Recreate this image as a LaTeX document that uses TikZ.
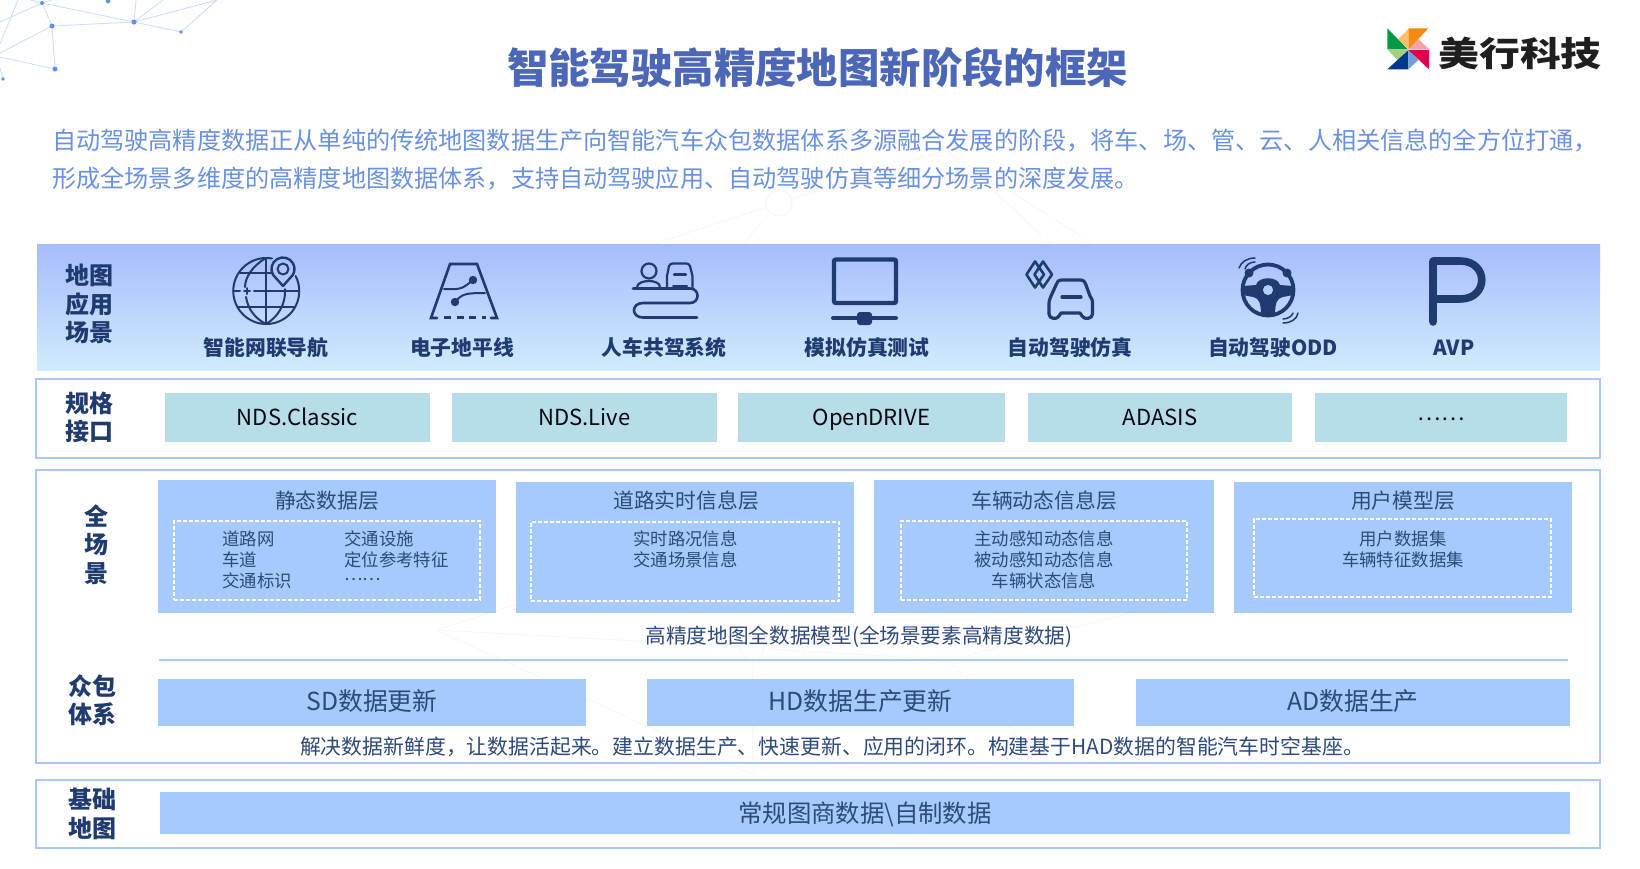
\documentclass[tikz,border=0pt]{standalone}
\usepackage{fontspec}
\usepackage{graphicx}
\setmainfont{Noto Sans CJK SC}
\definecolor{navy}{HTML}{1F3B70}
\definecolor{bodyc}{HTML}{2E4A7C}
\definecolor{chipc}{HTML}{B7DDE8}
\definecolor{layerc}{HTML}{A6CAFC}
\definecolor{framec}{HTML}{A9C7FA}
\definecolor{titlec}{HTML}{4C66B8}
\definecolor{parac}{HTML}{6A90E2}
\definecolor{netc}{HTML}{CADCFB}
\definecolor{dotc}{HTML}{5A93F5}
\definecolor{faintc}{HTML}{F5F7FB}
\definecolor{topb}{HTML}{A5BDFB}
\definecolor{botb}{HTML}{D0EBFF}
\definecolor{lg1}{HTML}{009A44}
\definecolor{lg2}{HTML}{A5CF80}
\definecolor{lo1}{HTML}{F58A0B}
\definecolor{lo2}{HTML}{FDC070}
\definecolor{lp1}{HTML}{F4A3A8}
\definecolor{lr1}{HTML}{E0004D}
\definecolor{lb1}{HTML}{003A8C}
\definecolor{lb2}{HTML}{6F9FD8}
\newcommand{\fs}[1]{\fontsize{#1}{#1}\selectfont}
% \boxn{name}{x1}{y1}{x2}{y2}{style}{text}
\newcommand{\boxn}[7]{%
  \pgfmathsetmacro{\bcx}{(#2+#4)/2}\pgfmathsetmacro{\bcy}{(#3+#5)/2}%
  \pgfmathsetmacro{\bw}{#4-#2}\pgfmathsetmacro{\bh}{#5-#3}%
  \node[#6,minimum width=\bw pt,minimum height=\bh pt,inner sep=0pt,outer sep=0pt] (#1) at (\bcx,\bcy) {#7};}
\tikzset{
  frameb/.style={draw=framec,line width=1.8pt},
  bandb/.style={top color=topb,bottom color=botb},
  chipb/.style={fill=chipc,text=black!85!navy,font=\fs{22.1},text height=18pt,text depth=2pt},
  layerb/.style={fill=layerc},
  wideb/.style={fill=layerc,text=bodyc,font=\fs{24.8},text height=18pt,text depth=2pt},
  baseb/.style={fill=layerc,text=bodyc,font=\fs{24.4},text height=21pt,text depth=2pt},
  dashb/.style={draw=white,line width=1.4pt,dash pattern=on 4pt off 2pt},
  sidel/.style={text=navy,font=\bfseries\fs{24},inner sep=0pt},
  iconl/.style={text=navy,font=\bfseries\fs{20.8},inner sep=0pt},
  layert/.style={text=bodyc,font=\fs{20.8},inner sep=0pt},
  innert/.style={text=bodyc,font=\fs{17.4},inner sep=0pt},
  innerl/.style={innert,anchor=west},
  desct/.style={text=bodyc,font=\fs{20.65},inner sep=0pt},
  parat/.style={text=parac,font=\fs{24.15},inner sep=0pt,anchor=west},
  ic/.style={draw=navy,line width=2.6pt,line cap=round,line join=round},
  net/.style={draw=netc,line width=0.8pt},
  netd/.style={circle,fill=dotc,inner sep=0pt},
  faint/.style={draw=faintc,line width=0.8pt}
}
\begin{document}
\begin{tikzpicture}[x=1pt,y=-1pt]
\useasboundingbox (0,0) rectangle (1640,868);
\fill[white] (0,0) rectangle (1640,868);

% faint background network
\coordinate (f1) at (779,203); \coordinate (f2) at (654,244); \coordinate (f3) at (743,244);
\coordinate (f4) at (945,150); \coordinate (f5) at (1092,243); \coordinate (f6) at (993,190); \coordinate (f7) at (1050,243);
\coordinate (f8) at (437,630); \coordinate (f9) at (523,602); \coordinate (f10) at (752,648); \coordinate (f11) at (753,775);
\coordinate (f12) at (620,640); \coordinate (f13) at (950,660); \coordinate (f14) at (1130,613); \coordinate (f15) at (1040,763);
\draw[faint] (f2)--(f1)--(f3) (f1)--(f4)--(f5) (f6)--(f7) (f8)--(f9) (f8)--(f12)--(f10)--(f13)--(f14) (f8)--(f11)--(f10) (f13)--(f15);
\node[draw=faintc,fill=white,line width=1.2pt,circle,minimum size=26pt,inner sep=0pt] (fh1) at (f1) {};
\node[draw=faintc,fill=white,line width=1.2pt,circle,minimum size=24pt,inner sep=0pt] (fh2) at (f10) {};

% corner network
\coordinate (nA) at (42,3); \coordinate (nB) at (52,26); \coordinate (nC) at (134,22); \coordinate (nD) at (181,32);
\coordinate (nE) at (55,69); \coordinate (nF) at (3,79); \coordinate (nG) at (108,1); \coordinate (nH) at (217,0);
\draw[net] (nA)--(nC) (nA)--(nB) (nB)--(nC) (nC)--(nD) (nD)--(nH) (nC)--(nH) (nC)--(163,0) (nC)--(136,0)
  (nB)--(nE) (nB)--(0,53) (0,57)--(nE) (nA)--(0,22) (0,44)--(18,0) (nA)--(30,0) (nA)--(52,0) (0,68)--(nF);
\foreach \p/\s in {nA/4,nB/5,nC/5,nD/3.6,nE/5,nF/3.6,nG/4.6}{\node[netd,minimum size=\s pt] at (\p) {};}

% title and paragraph
\node[text=titlec,font=\bfseries\fs{41.4},inner sep=0pt] (title) at (817.5,68) {智能驾驶高精度地图新阶段的框架};
\node[parat] (p1) at (52,141) {自动驾驶高精度数据正从单纯的传统地图数据生产向智能汽车众包数据体系多源融合发展的阶段，将车、场、管、云、人相关信息的全方位打通，};
\node[parat] (p2) at (52,178.5) {形成全场景多维度的高精度地图数据体系，支持自动驾驶应用、自动驾驶仿真等细分场景的深度发展。};

% logo pinwheel
\begin{scope}[shift={(1380,20)},x=0.3333pt,y=-0.3333pt]
\fill[lg1] (22,25)--(84,88)--(22,88)--cycle;
\fill[lg2] (22,88)--(84,88)--(52,120)--cycle;
\fill[lb1] (22,148)--(85,90)--(85,148)--cycle;
\fill[lb2] (85,90)--(115,120)--(85,148)--cycle;
\fill[lr1] (85,90)--(147,90)--(147,148)--cycle;
\fill[lp1] (85,88)--(115,57)--(147,88)--cycle;
\fill[lo1] (85,25)--(145,25)--(85,88)--cycle;
\fill[lo2] (85,27)--(85,88)--(55,57)--cycle;
\end{scope}
\node[inner sep=0pt,text=black!88,font=\bfseries\fs{34}] (logot) at (1520,53) {\scalebox{1.2}[1]{美行科技}};

% frames and band
\boxn{band}{37}{244}{1600}{370}{bandb}{}
\boxn{fspec}{36}{379}{1600}{458}{frameb}{}
\boxn{fall}{36}{470}{1600}{763}{frameb}{}
\boxn{fbase}{36}{780}{1600}{848}{frameb}{}

% side labels
\node[sidel] (s1) at (89.5,275) {地图};
\node[sidel] (s2) at (89.5,304) {应用};
\node[sidel] (s3) at (89.5,333) {场景};
\node[sidel] (s4) at (89,403) {规格};
\node[sidel] (s5) at (89,431) {接口};
\node[sidel] (s6) at (96,516) {全};
\node[sidel] (s7) at (96,545) {场};
\node[sidel] (s8) at (96,574) {景};
\node[sidel] (s9) at (92,686) {众包};
\node[sidel] (s10) at (92,714) {体系};
\node[sidel] (s11) at (92,799) {基础};
\node[sidel] (s12) at (92,828) {地图};

% icon labels
\node[iconl] (i1) at (266,347.5) {智能网联导航};
\node[iconl] (i2) at (462,347.5) {电子地平线};
\node[iconl] (i3) at (664,347.5) {人车共驾系统};
\node[iconl] (i4) at (867,347.5) {模拟仿真测试};
\node[iconl] (i5) at (1070,347.5) {自动驾驶仿真};
\node[iconl] (i6) at (1273,347.5) {自动驾驶ODD};
\node[iconl] (i7) at (1454,347.5) {AVP};

% icon: globe
\begin{scope}[ic,line width=2pt]
\draw (272,258.5) arc[start angle=80,end angle=387,radius=33pt];
\draw (266,258) -- (266,324);
\draw (266,258) .. controls (252,266) and (245,278) .. (245,287) (246,297) .. controls (248,310) and (256,319) .. (266,324);
\draw (266,324) .. controls (278,317) and (286,304) .. (285,289);
\draw (240,273) -- (271,273) (233,291) -- (240,291) (254,291) -- (299,291) (238,307) -- (294,307);
\draw (247,288) -- (247,294) (244,291) -- (250,291);
\end{scope}
\draw[ic,line width=2.4pt] (283,286) -- (273,274.75) arc[start angle=210,end angle=-30,radius=11.5pt] -- cycle;
\draw[ic,line width=2pt] (283,269) circle[radius=5.5pt];

% icon: horizon
\draw[ic,line join=miter] (437,318) -- (431,318) -- (450,264) -- (477,264) -- (497,318) -- (491,318);
\draw[ic,line width=2.4pt,dash pattern=on 7pt off 5.5pt,line cap=butt] (444,317.5) -- (486,317.5);
\fill[navy] (473,280) circle[radius=4.2pt] (455,302) circle[radius=4.2pt];
\draw[ic,line width=2pt] (444,289) .. controls (462,290) and (463,288) .. (473,280);
\draw[ic,line width=2pt] (455,302) .. controls (462,294) and (465,293) .. (485,293);

% icon: person, car, road
\draw[ic,line width=2.2pt] (649,271) circle[radius=7.5pt];
\draw[ic,line width=2.2pt] (637,287) .. controls (638,279) and (660,279) .. (660,287);
\draw[ic,line width=2.2pt] (667,288) -- (667,276) -- (669,266) .. controls (670,264) and (671,263.5) .. (673,263.5) -- (686,263.5) .. controls (688,263.5) and (689,264) .. (690,266) -- (692.5,276) -- (692.5,288);
\draw[ic,line width=2.2pt] (674,274.5) -- (686,274.5);
\draw[ic,line width=2pt] (673,286) -- (687,286);
\draw[ic] (633,288.5) -- (690,288.5) .. controls (700,288.5) and (700,303) .. (690,303) -- (643,303) .. controls (631,303) and (631,317.5) .. (643,317.5) -- (697,317.5);

% icon: monitor
\draw[draw=navy,line width=4.4pt,rounded corners=2pt] (834,259.5) rectangle (896,303);
\draw[navy,line width=4pt,line cap=round] (833,318) -- (896,318);
\fill[navy,rounded corners=3pt] (857,312) rectangle (872,325);

% icon: diamonds + car
\draw[ic,line width=2.6pt] (1035,261.5) -- (1044,274.5) -- (1035,287.5) -- (1026.5,274.5) -- cycle;
\draw[ic,line width=2.6pt] (1043,261.5) -- (1052,274.5) -- (1043,287.5) -- (1034.5,274.5) -- cycle;
\draw[ic,line width=3.2pt] (1062,280) -- (1080,280) .. controls (1084,280) and (1085,282) .. (1086,285) -- (1090,296) .. controls (1092,299) and (1092.5,300) .. (1092.5,304) -- (1092.5,314) .. controls (1092.5,319) and (1084,320) .. (1082,316) -- (1080,313) -- (1061,313) -- (1059,316) .. controls (1057,320) and (1049,319) .. (1049,314) -- (1049,304) .. controls (1049,300) and (1050,299) .. (1051,296) -- (1056,285) .. controls (1057,282) and (1058,280) .. (1062,280) -- cycle;
\draw[ic,line width=3.2pt] (1062,297) -- (1081,297);

% icon: steering wheel
\draw[draw=navy,line width=3.8pt] (1268,290) circle[radius=25.5pt];
\path[fill=navy,even odd rule] (1243,286) -- (1256,285) .. controls (1258,276) and (1278,276) .. (1280,285) -- (1293,286) -- (1293,295) -- (1283,297) .. controls (1277,298) and (1275,303) .. (1275,315) -- (1261,315) .. controls (1261,303) and (1259,298) .. (1253,297) -- (1243,295) -- cycle (1268,290) circle[radius=5.2pt];
\fill[navy] (1249,273) circle[radius=4.5pt] (1287,273) circle[radius=4.5pt];
\draw[ic,line width=1.5pt] (1239,268) .. controls (1241,262) and (1247,258) .. (1255,258);
\draw[ic,line width=1.5pt] (1245,269) .. controls (1246,265) and (1250,262) .. (1255,262);
\draw[ic,line width=1.5pt] (1283,323) .. controls (1291,323) and (1297,319) .. (1298,313);
\draw[ic,line width=1.5pt] (1283,319) .. controls (1288,319) and (1292,316) .. (1293,313);

% icon: P
\draw[ic,line width=7.6pt] (1433,322) -- (1433,261) -- (1460,261) .. controls (1489,261) and (1489,299) .. (1460,299) -- (1434,299);

% spec chips
\boxn{c1}{165}{393}{430}{442}{chipb}{NDS.Classic}
\boxn{c2}{452}{393}{717}{442}{chipb}{NDS.Live}
\boxn{c3}{738}{393}{1005}{442}{chipb}{OpenDRIVE}
\boxn{c4}{1028}{393}{1292}{442}{chipb}{ADASIS}
\boxn{c5}{1315}{393}{1567}{442}{chipb}{\raisebox{5pt}{……}}

% layers
\boxn{l1}{158}{480}{496}{613}{layerb}{}
\boxn{l2}{516}{482}{854}{613}{layerb}{}
\boxn{l3}{874}{480}{1214}{613}{layerb}{}
\boxn{l4}{1234}{482}{1572}{613}{layerb}{}
\boxn{d1}{174}{521}{480}{600}{dashb}{}
\boxn{d2}{531}{522}{839}{601}{dashb}{}
\boxn{d3}{901}{521}{1187}{600}{dashb}{}
\boxn{d4}{1254}{519}{1551}{597}{dashb}{}
\node[layert] (t1) at (327,500.5) {静态数据层};
\node[layert] (t2) at (686,500.5) {道路实时信息层};
\node[layert] (t3) at (1044,500.5) {车辆动态信息层};
\node[layert] (t4) at (1403,500.5) {用户模型层};

\node[innerl] (a1) at (222,539) {道路网};
\node[innerl] (a2) at (222,560) {车道};
\node[innerl] (a3) at (222,580.5) {交通标识};
\node[innerl] (a4) at (344,539) {交通设施};
\node[innerl] (a5) at (344,560) {定位参考特征};
\node[innerl] (a6) at (344,579.5) {……};
\node[innert] (b1) at (685.5,539) {实时路况信息};
\node[innert] (b2) at (685.5,560) {交通场景信息};
\node[innert] (e1) at (1044,539) {主动感知动态信息};
\node[innert] (e2) at (1044,560) {被动感知动态信息};
\node[innert] (e3) at (1044,580.5) {车辆状态信息};
\node[innert] (g1) at (1403,539) {用户数据集};
\node[innert] (g2) at (1403,560) {车辆特征数据集};

\node[desct] (m1) at (859,637) {高精度地图全数据模型(全场景要素高精度数据)};
\coordinate (ruleL) at (159,660); \coordinate (ruleR) at (1568,660);
\draw[framec,line width=1.6pt] (ruleL) -- (ruleR);

\boxn{w1}{158}{679}{586}{726}{wideb}{SD数据更新}
\boxn{w2}{647}{679}{1074}{726}{wideb}{HD数据生产更新}
\boxn{w3}{1136}{679}{1570}{726}{wideb}{AD数据生产}
\node[desct,font=\fs{20.85}] (m2) at (832,746.5) {解决数据新鲜度，让数据活起来。建立数据生产、快速更新、应用的闭环。构建基于HAD数据的智能汽车时空基座。};
\boxn{w4}{160}{792}{1570}{834}{baseb}{常规图商数据\textbackslash 自制数据}
\end{tikzpicture}
\end{document}
